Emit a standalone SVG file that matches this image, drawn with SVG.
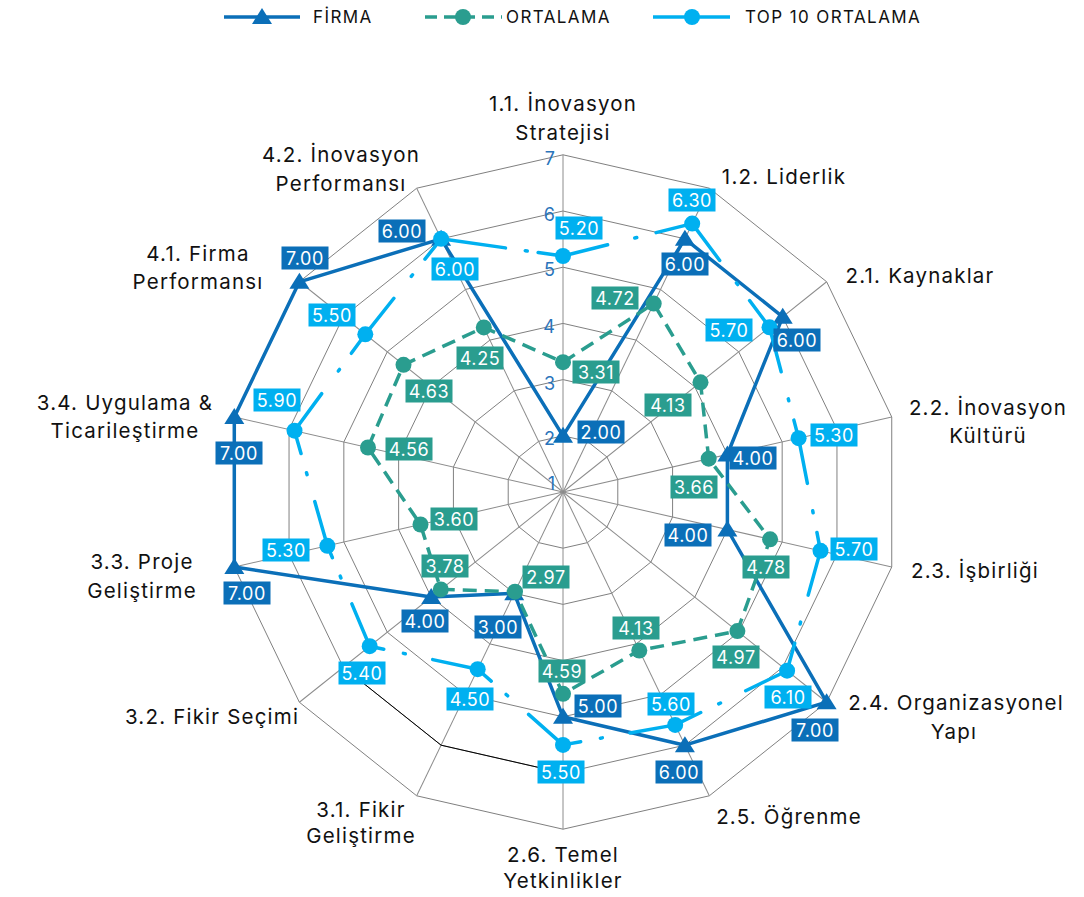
<svg xmlns="http://www.w3.org/2000/svg" xmlns:xlink="http://www.w3.org/1999/xlink" width="1084" height="897" viewBox="0 0 1084 897">
  <style>
    text { font-family: Inter, "Noto Sans", "Liberation Sans", sans-serif; }
    .ring { fill: none; stroke: #808080; stroke-width: 1; vector-effect: non-scaling-stroke; }
    .ring-dark { fill: none; stroke: #000; stroke-width: 1; }
    .spoke { stroke: #8c8c8c; stroke-width: 1; }
    .tick { fill: #2a74bb; font-size: 18px; text-anchor: end; }
    .axis { fill: #111; font-size: 20.5px; letter-spacing: 1.2px; text-anchor: middle; }
    .legend { fill: #111; font-size: 17px; letter-spacing: 1.4px; }
    .firma-line { fill: none; stroke: #0b6fb8; stroke-width: 3.5; stroke-linejoin: round; }
    .ort-line { fill: none; stroke: #2a9d8f; stroke-width: 3.5; stroke-dasharray: 14 8; }
    .top-line { stroke: #00b0f0; stroke-width: 3.5; stroke-linecap: round; stroke-dasharray: 46 28 2 20 300 1; }
    .firma-mk { fill: #0b6fb8; }
    .ort-mk { fill: #2a9d8f; }
    .top-mk { fill: #00b0f0; }
    .box-firma { fill: #0b6fb8; }
    .box-ort { fill: #2a9d8f; }
    .box-top { fill: #00b0f0; }
    .val { fill: #fff; font-size: 18px; letter-spacing: 0.6px; text-anchor: middle; }
  </style>
  <defs>
    <!-- unit 14-gon, scaled per ring -->
    <polygon id="gon" class="ring" points="0,-1 0.43388,-0.90097 0.78183,-0.62349 0.97493,-0.22252 0.97493,0.22252 0.78183,0.62349 0.43388,0.90097 0,1 -0.43388,0.90097 -0.78183,0.62349 -0.97493,0.22252 -0.97493,-0.22252 -0.78183,-0.62349 -0.43388,-0.90097"/>
    <path id="tri" d="M0,-9 L10,7 L-10,7 Z"/>
    <circle id="dot" r="8"/>
  </defs>
  <rect width="1084" height="897" fill="#fff"/>

  <!-- legend -->
  <g id="legend">
    <line x1="224" y1="17" x2="300" y2="17" stroke="#0b6fb8" stroke-width="3.5"/>
    <use xlink:href="#tri" x="262" y="17" class="firma-mk"/>
    <text class="legend" x="313" y="23">FİRMA</text>
    <line x1="425" y1="17" x2="502" y2="17" stroke="#2a9d8f" stroke-width="3.5" stroke-dasharray="12 7"/>
    <circle cx="463" cy="17" r="8" class="ort-mk"/>
    <text class="legend" x="506" y="23">ORTALAMA</text>
    <line x1="653" y1="17" x2="730" y2="17" stroke="#00b0f0" stroke-width="3.5"/>
    <circle cx="692" cy="17" r="8" class="top-mk"/>
    <text class="legend" x="745" y="23">TOP 10 ORTALAMA</text>
  </g>

  <!-- grid -->
  <g id="grid">
    <g transform="translate(563 492)">
      <use xlink:href="#gon" transform="scale(56.2)"/>
      <use xlink:href="#gon" transform="scale(112.4)"/>
      <use xlink:href="#gon" transform="scale(168.6)"/>
      <use xlink:href="#gon" transform="scale(224.8)"/>
      <use xlink:href="#gon" transform="scale(281)"/>
      <use xlink:href="#gon" transform="scale(337.2)"/>
      <g class="spoke">
        <line x1="0" y1="0" x2="0" y2="-337.2"/>
        <line x1="0" y1="0" x2="0" y2="-337.2" transform="rotate(25.714)"/>
        <line x1="0" y1="0" x2="0" y2="-337.2" transform="rotate(51.429)"/>
        <line x1="0" y1="0" x2="0" y2="-337.2" transform="rotate(77.143)"/>
        <line x1="0" y1="0" x2="0" y2="-337.2" transform="rotate(102.857)"/>
        <line x1="0" y1="0" x2="0" y2="-337.2" transform="rotate(128.571)"/>
        <line x1="0" y1="0" x2="0" y2="-337.2" transform="rotate(154.286)"/>
        <line x1="0" y1="0" x2="0" y2="-337.2" transform="rotate(180)"/>
        <line x1="0" y1="0" x2="0" y2="-337.2" transform="rotate(205.714)"/>
        <line x1="0" y1="0" x2="0" y2="-337.2" transform="rotate(231.429)"/>
        <line x1="0" y1="0" x2="0" y2="-337.2" transform="rotate(257.143)"/>
        <line x1="0" y1="0" x2="0" y2="-337.2" transform="rotate(282.857)"/>
        <line x1="0" y1="0" x2="0" y2="-337.2" transform="rotate(308.571)"/>
        <line x1="0" y1="0" x2="0" y2="-337.2" transform="rotate(334.286)"/>
      </g>
    </g>
    <polyline class="ring-dark" points="343.3,667.2 441.1,745.2 563,773"/>
  </g>

  <!-- scale values -->
  <g id="scale">
    <text class="tick" x="555" y="165">7</text>
    <text class="tick" x="555" y="221">6</text>
    <text class="tick" x="555" y="276">5</text>
    <text class="tick" x="555" y="333">4</text>
    <text class="tick" x="555" y="390">3</text>
    <text class="tick" x="555" y="445">2</text>
    <text class="tick" x="555" y="490">1</text>
  </g>

  <!-- category labels -->
  <g id="labels">
    <g id="n-1-1"><text class="axis" x="563" y="111">1.1. İnovasyon</text><text class="axis" x="563" y="140">Stratejisi</text></g>
    <g id="n-1-2"><text class="axis" x="784" y="184">1.2. Liderlik</text></g>
    <g id="n-2-1"><text class="axis" x="920" y="283">2.1. Kaynaklar</text></g>
    <g id="n-2-2"><text class="axis" x="988" y="415">2.2. İnovasyon</text><text class="axis" x="988" y="443">Kültürü</text></g>
    <g id="n-2-3"><text class="axis" x="975" y="578">2.3. İşbirliği</text></g>
    <g id="n-2-4"><text class="axis" x="956" y="710">2.4. Organizasyonel</text><text class="axis" x="954" y="739">Yapı</text></g>
    <g id="n-2-5"><text class="axis" x="789" y="824">2.5. Öğrenme</text></g>
    <g id="n-2-6"><text class="axis" x="563" y="862">2.6. Temel</text><text class="axis" x="563" y="888">Yetkinlikler</text></g>
    <g id="n-3-1"><text class="axis" x="361" y="817">3.1. Fikir</text><text class="axis" x="361" y="843">Geliştirme</text></g>
    <g id="n-3-2"><text class="axis" x="212" y="724">3.2. Fikir Seçimi</text></g>
    <g id="n-3-3"><text class="axis" x="142" y="569">3.3. Proje</text><text class="axis" x="142" y="598">Geliştirme</text></g>
    <g id="n-3-4"><text class="axis" x="125" y="410">3.4. Uygulama &amp;</text><text class="axis" x="125" y="438">Ticarileştirme</text></g>
    <g id="n-4-1"><text class="axis" x="198" y="261">4.1. Firma</text><text class="axis" x="198" y="289">Performansı</text></g>
    <g id="n-4-2"><text class="axis" x="341" y="162">4.2. İnovasyon</text><text class="axis" x="341" y="191">Performansı</text></g>
  </g>

  <!-- series connectors -->
  <g id="connectors">
    <polygon class="firma-line" points="563,435.8 684.9,238.8 782.7,316.8 727.4,454.5 727.4,529.5 826.6,702.2 684.9,745.2 563,716.8 514.2,593.3 431.2,597.1 234.3,567 234.3,417 299.4,281.8 441.1,238.8"/>
    <g class="firma-mk">
      <use xlink:href="#tri" x="563" y="435.8"/><use xlink:href="#tri" x="684.9" y="238.8"/>
      <use xlink:href="#tri" x="782.7" y="316.8"/><use xlink:href="#tri" x="727.4" y="454.5"/>
      <use xlink:href="#tri" x="727.4" y="529.5"/><use xlink:href="#tri" x="826.6" y="702.2"/>
      <use xlink:href="#tri" x="684.9" y="745.2"/><use xlink:href="#tri" x="563" y="716.8"/>
      <use xlink:href="#tri" x="514.2" y="593.3"/><use xlink:href="#tri" x="431.2" y="597.1"/>
      <use xlink:href="#tri" x="234.3" y="567"/><use xlink:href="#tri" x="234.3" y="417"/>
      <use xlink:href="#tri" x="299.4" y="281.8"/><use xlink:href="#tri" x="441.1" y="238.8"/>
    </g>

    <polygon class="ort-line" points="563,362.2 653.7,303.6 700.5,382.3 708.7,458.7 770.1,539.3 737.4,631.1 639.3,650.5 563,693.8 515,591.7 440.8,589.4 420.5,524.5 368,447.5 403.5,364.8 483.8,327.4"/>
    <g class="ort-mk">
      <use xlink:href="#dot" x="563" y="362.2"/><use xlink:href="#dot" x="653.7" y="303.6"/>
      <use xlink:href="#dot" x="700.5" y="382.3"/><use xlink:href="#dot" x="708.7" y="458.7"/>
      <use xlink:href="#dot" x="770.1" y="539.3"/><use xlink:href="#dot" x="737.4" y="631.1"/>
      <use xlink:href="#dot" x="639.3" y="650.5"/><use xlink:href="#dot" x="563" y="693.8"/>
      <use xlink:href="#dot" x="515" y="591.7"/><use xlink:href="#dot" x="440.8" y="589.4"/>
      <use xlink:href="#dot" x="420.5" y="524.5"/><use xlink:href="#dot" x="368" y="447.5"/>
      <use xlink:href="#dot" x="403.5" y="364.8"/><use xlink:href="#dot" x="483.8" y="327.4"/>
    </g>

    <g class="top-line">
      <line x1="563" y1="256" x2="692.2" y2="223.6"/>
      <line x1="692.2" y1="223.6" x2="769.5" y2="327.3"/>
      <line x1="769.5" y1="327.3" x2="798.6" y2="438.2"/>
      <line x1="798.6" y1="438.2" x2="820.5" y2="550.8"/>
      <line x1="820.5" y1="550.8" x2="787.1" y2="670.7"/>
      <line x1="787.1" y1="670.7" x2="675.2" y2="724.9"/>
      <line x1="675.2" y1="724.9" x2="563" y2="744.9"/>
      <line x1="563" y1="744.9" x2="477.7" y2="669.2"/>
      <line x1="477.7" y1="669.2" x2="369.7" y2="646.2"/>
      <line x1="369.7" y1="646.2" x2="327.4" y2="545.8"/>
      <line x1="327.4" y1="545.8" x2="294.5" y2="430.7"/>
      <line x1="294.5" y1="430.7" x2="365.3" y2="334.3"/>
      <line x1="365.3" y1="334.3" x2="441.1" y2="238.8"/>
      <line x1="441.1" y1="238.8" x2="563" y2="256" stroke-dasharray="65 20 2 11 300 1"/>
    </g>
    <g class="top-mk">
      <use xlink:href="#dot" x="563" y="256"/><use xlink:href="#dot" x="692.2" y="223.6"/>
      <use xlink:href="#dot" x="769.5" y="327.3"/><use xlink:href="#dot" x="798.6" y="438.2"/>
      <use xlink:href="#dot" x="820.5" y="550.8"/><use xlink:href="#dot" x="787.1" y="670.7"/>
      <use xlink:href="#dot" x="675.2" y="724.9"/><use xlink:href="#dot" x="563" y="744.9"/>
      <use xlink:href="#dot" x="477.7" y="669.2"/><use xlink:href="#dot" x="369.7" y="646.2"/>
      <use xlink:href="#dot" x="327.4" y="545.8"/><use xlink:href="#dot" x="294.5" y="430.7"/>
      <use xlink:href="#dot" x="365.3" y="334.3"/><use xlink:href="#dot" x="441.1" y="238.8"/>
    </g>
  </g>

  <!-- data labels -->
  <g id="values-firma">
    <g transform="translate(601 432)"><rect class="box-firma" x="-23.5" y="-11.5" width="47" height="23"/><text class="val" y="6.5">2.00</text></g>
    <g transform="translate(685 264)"><rect class="box-firma" x="-23.5" y="-11.5" width="47" height="23"/><text class="val" y="6.5">6.00</text></g>
    <g transform="translate(797 340)"><rect class="box-firma" x="-23.5" y="-11.5" width="47" height="23"/><text class="val" y="6.5">6.00</text></g>
    <g transform="translate(753 458)"><rect class="box-firma" x="-23.5" y="-11.5" width="47" height="23"/><text class="val" y="6.5">4.00</text></g>
    <g transform="translate(688 535)"><rect class="box-firma" x="-23.5" y="-11.5" width="47" height="23"/><text class="val" y="6.5">4.00</text></g>
    <g transform="translate(815 730)"><rect class="box-firma" x="-23.5" y="-11.5" width="47" height="23"/><text class="val" y="6.5">7.00</text></g>
    <g transform="translate(679 772)"><rect class="box-firma" x="-23.5" y="-11.5" width="47" height="23"/><text class="val" y="6.5">6.00</text></g>
    <g transform="translate(598 706)"><rect class="box-firma" x="-23.5" y="-11.5" width="47" height="23"/><text class="val" y="6.5">5.00</text></g>
    <g transform="translate(498 627)"><rect class="box-firma" x="-23.5" y="-11.5" width="47" height="23"/><text class="val" y="6.5">3.00</text></g>
    <g transform="translate(425 621)"><rect class="box-firma" x="-23.5" y="-11.5" width="47" height="23"/><text class="val" y="6.5">4.00</text></g>
    <g transform="translate(247 593)"><rect class="box-firma" x="-23.5" y="-11.5" width="47" height="23"/><text class="val" y="6.5">7.00</text></g>
    <g transform="translate(239 453)"><rect class="box-firma" x="-23.5" y="-11.5" width="47" height="23"/><text class="val" y="6.5">7.00</text></g>
    <g transform="translate(305 258)"><rect class="box-firma" x="-23.5" y="-11.5" width="47" height="23"/><text class="val" y="6.5">7.00</text></g>
    <g transform="translate(402 231)"><rect class="box-firma" x="-23.5" y="-11.5" width="47" height="23"/><text class="val" y="6.5">6.00</text></g>
  </g>
  <g id="values-ort">
    <g transform="translate(596 372)"><rect class="box-ort" x="-23.5" y="-11.5" width="47" height="23"/><text class="val" y="6.5">3.31</text></g>
    <g transform="translate(615 298)"><rect class="box-ort" x="-23.5" y="-11.5" width="47" height="23"/><text class="val" y="6.5">4.72</text></g>
    <g transform="translate(668 405)"><rect class="box-ort" x="-23.5" y="-11.5" width="47" height="23"/><text class="val" y="6.5">4.13</text></g>
    <g transform="translate(694 487)"><rect class="box-ort" x="-23.5" y="-11.5" width="47" height="23"/><text class="val" y="6.5">3.66</text></g>
    <g transform="translate(766 567)"><rect class="box-ort" x="-23.5" y="-11.5" width="47" height="23"/><text class="val" y="6.5">4.78</text></g>
    <g transform="translate(736 657)"><rect class="box-ort" x="-23.5" y="-11.5" width="47" height="23"/><text class="val" y="6.5">4.97</text></g>
    <g transform="translate(636 628)"><rect class="box-ort" x="-23.5" y="-11.5" width="47" height="23"/><text class="val" y="6.5">4.13</text></g>
    <g transform="translate(562 671)"><rect class="box-ort" x="-23.5" y="-11.5" width="47" height="23"/><text class="val" y="6.5">4.59</text></g>
    <g transform="translate(546 577)"><rect class="box-ort" x="-23.5" y="-11.5" width="47" height="23"/><text class="val" y="6.5">2.97</text></g>
    <g transform="translate(445 566)"><rect class="box-ort" x="-23.5" y="-11.5" width="47" height="23"/><text class="val" y="6.5">3.78</text></g>
    <g transform="translate(454 519)"><rect class="box-ort" x="-23.5" y="-11.5" width="47" height="23"/><text class="val" y="6.5">3.60</text></g>
    <g transform="translate(409 449)"><rect class="box-ort" x="-23.5" y="-11.5" width="47" height="23"/><text class="val" y="6.5">4.56</text></g>
    <g transform="translate(429 391)"><rect class="box-ort" x="-23.5" y="-11.5" width="47" height="23"/><text class="val" y="6.5">4.63</text></g>
    <g transform="translate(480 358)"><rect class="box-ort" x="-23.5" y="-11.5" width="47" height="23"/><text class="val" y="6.5">4.25</text></g>
  </g>
  <g id="values-top">
    <g transform="translate(579 228)"><rect class="box-top" x="-23.5" y="-11.5" width="47" height="23"/><text class="val" y="6.5">5.20</text></g>
    <g transform="translate(692 200)"><rect class="box-top" x="-23.5" y="-11.5" width="47" height="23"/><text class="val" y="6.5">6.30</text></g>
    <g transform="translate(729 330)"><rect class="box-top" x="-23.5" y="-11.5" width="47" height="23"/><text class="val" y="6.5">5.70</text></g>
    <g transform="translate(834 435)"><rect class="box-top" x="-23.5" y="-11.5" width="47" height="23"/><text class="val" y="6.5">5.30</text></g>
    <g transform="translate(854 549)"><rect class="box-top" x="-23.5" y="-11.5" width="47" height="23"/><text class="val" y="6.5">5.70</text></g>
    <g transform="translate(788 697)"><rect class="box-top" x="-23.5" y="-11.5" width="47" height="23"/><text class="val" y="6.5">6.10</text></g>
    <g transform="translate(671 704)"><rect class="box-top" x="-23.5" y="-11.5" width="47" height="23"/><text class="val" y="6.5">5.60</text></g>
    <g transform="translate(561 772)"><rect class="box-top" x="-23.5" y="-11.5" width="47" height="23"/><text class="val" y="6.5">5.50</text></g>
    <g transform="translate(470 699)"><rect class="box-top" x="-23.5" y="-11.5" width="47" height="23"/><text class="val" y="6.5">4.50</text></g>
    <g transform="translate(362 673)"><rect class="box-top" x="-23.5" y="-11.5" width="47" height="23"/><text class="val" y="6.5">5.40</text></g>
    <g transform="translate(286 550)"><rect class="box-top" x="-23.5" y="-11.5" width="47" height="23"/><text class="val" y="6.5">5.30</text></g>
    <g transform="translate(277 400)"><rect class="box-top" x="-23.5" y="-11.5" width="47" height="23"/><text class="val" y="6.5">5.90</text></g>
    <g transform="translate(332 315)"><rect class="box-top" x="-23.5" y="-11.5" width="47" height="23"/><text class="val" y="6.5">5.50</text></g>
    <g transform="translate(455 269)"><rect class="box-top" x="-23.5" y="-11.5" width="47" height="23"/><text class="val" y="6.5">6.00</text></g>
  </g>
</svg>
